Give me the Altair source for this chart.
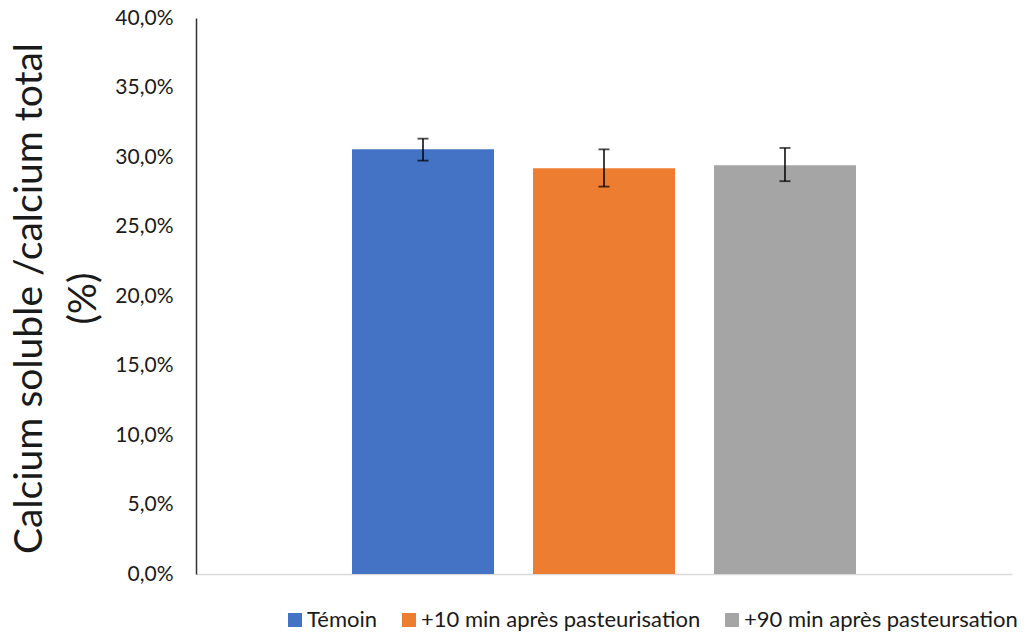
import altair as alt
import pandas as pd

series = ["Témoin", "+10 min après pasteurisation", "+90 min après pasteursation"]
values = [0.3055, 0.2919, 0.2941]
err_low = [0.2974, 0.2787, 0.2826]
err_high = [0.3132, 0.3055, 0.3065]
colors = ["#4472C4", "#ED7D31", "#A5A5A5"]
y_ticks = [0, 0.05, 0.10, 0.15, 0.20, 0.25, 0.30, 0.35, 0.40]

df = pd.DataFrame({"serie": series, "val": values, "lo": err_low, "hi": err_high})

FONT = "Lato"

x = alt.X(
    "serie:N",
    sort=series,
    title="",
    scale=alt.Scale(paddingInner=0.2155, paddingOuter=0.862),
    axis=alt.Axis(labels=False, ticks=False, domainColor="#D9D9D9", domainWidth=1.5, grid=False),
)

bars = alt.Chart(df).mark_bar().encode(
    x=x,
    y=alt.Y(
        "val:Q",
        scale=alt.Scale(domain=[0, 0.4], nice=False, zero=True),
        axis=alt.Axis(
            values=y_ticks,
            labelExpr="replace(format(datum.value, '.1%'), '.', ',')",
            ticks=False,
            grid=False,
            domainColor="#333333",
            domainWidth=1.5,
            labelFont=FONT,
            labelFontSize=21,
            labelColor="#1a1a1a",
            labelPadding=23,
            title=["Calcium soluble /calcium total", "(%)"],
            titleFont=FONT,
            titleFontSize=39,
            titleFontWeight="normal",
            titleColor="#1a1a1a",
            titleAngle=270,
            titleBaseline="top",
            titleX=-186,
            titleY=280,
            titleLineHeight=54,
        ),
    ),
    color=alt.Color(
        "serie:N",
        sort=series,
        scale=alt.Scale(domain=series, range=colors),
        legend=alt.Legend(
            title=None,
            orient="none",
            legendX=88,
            legendY=591,
            direction="horizontal",
            symbolType="square",
            symbolSize=196,
            symbolStrokeWidth=0,
            labelFont=FONT,
            labelFontSize=22,
            labelColor="#1a1a1a",
            labelLimit=500,
            labelOffset=1,
            columnPadding=20,
        ),
    ),
)

rules = alt.Chart(df).mark_rule(color="black", strokeWidth=1.5).encode(
    x=alt.X("serie:N", sort=series), y="lo:Q", y2="hi:Q"
)
cap_lo = alt.Chart(df).mark_tick(color="black", size=11, thickness=1.8).encode(
    x=alt.X("serie:N", sort=series), y="lo:Q"
)
cap_hi = alt.Chart(df).mark_tick(color="black", size=11, thickness=1.8).encode(
    x=alt.X("serie:N", sort=series), y="hi:Q"
)

chart = (
    alt.layer(bars, rules, cap_lo, cap_hi)
    .properties(
        width=816,
        height=556,
        autosize=alt.AutoSizeParams(type="none"),
        padding={"left": 188, "top": 10, "right": 12, "bottom": 58},
    )
    .configure_view(stroke=None)
)

chart.save("out.html", embed_options={"renderer": "svg", "actions": False})
